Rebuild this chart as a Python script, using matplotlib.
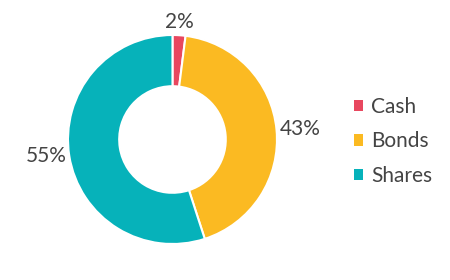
import numpy as np
import matplotlib.pyplot as plt

labels = ['Cash', 'Bonds', 'Shares']
values = [2, 43, 55]
colors = ['#E8475F', '#FBBA22', '#06B2BA']

plt.rcParams['font.family'] = ['Lato', 'DejaVu Sans']
text_color = '#444444'

fig = plt.figure(figsize=(4.5, 2.8), dpi=100)
ax = fig.add_axes([0.1511, 0.1286, 0.4644, 0.7464])

wedges, _ = ax.pie(values, colors=colors, startangle=90, counterclock=False,
                   radius=1.0,
                   wedgeprops=dict(width=0.49, edgecolor='white', linewidth=1.5))
ax.set_xlim(-1, 1)
ax.set_ylim(-1, 1)

# percentage labels just outside the ring
for w, v in zip(wedges, values):
    ang = np.deg2rad((w.theta1 + w.theta2) / 2)
    x, y = 1.03 * np.cos(ang), 1.03 * np.sin(ang)
    ha = 'left' if np.cos(ang) > 0.3 else ('right' if np.cos(ang) < -0.3 else 'center')
    va = 'bottom' if np.sin(ang) > 0.3 else ('top' if np.sin(ang) < -0.3 else 'center')
    ax.text(x, y, f'{v}%', ha=ha, va=va, fontsize=15, color=text_color)

leg = fig.legend(wedges, labels, loc='center left', bbox_to_anchor=(354 / 450, 0.495),
                 frameon=False, fontsize=15, labelcolor=text_color,
                 borderaxespad=0, borderpad=0,
                 handlelength=0.45, handleheight=0.45, handletextpad=0.37,
                 labelspacing=0.68)
for h in leg.legend_handles:
    h.set_edgecolor('none')

fig.savefig('out.png', dpi=100)
